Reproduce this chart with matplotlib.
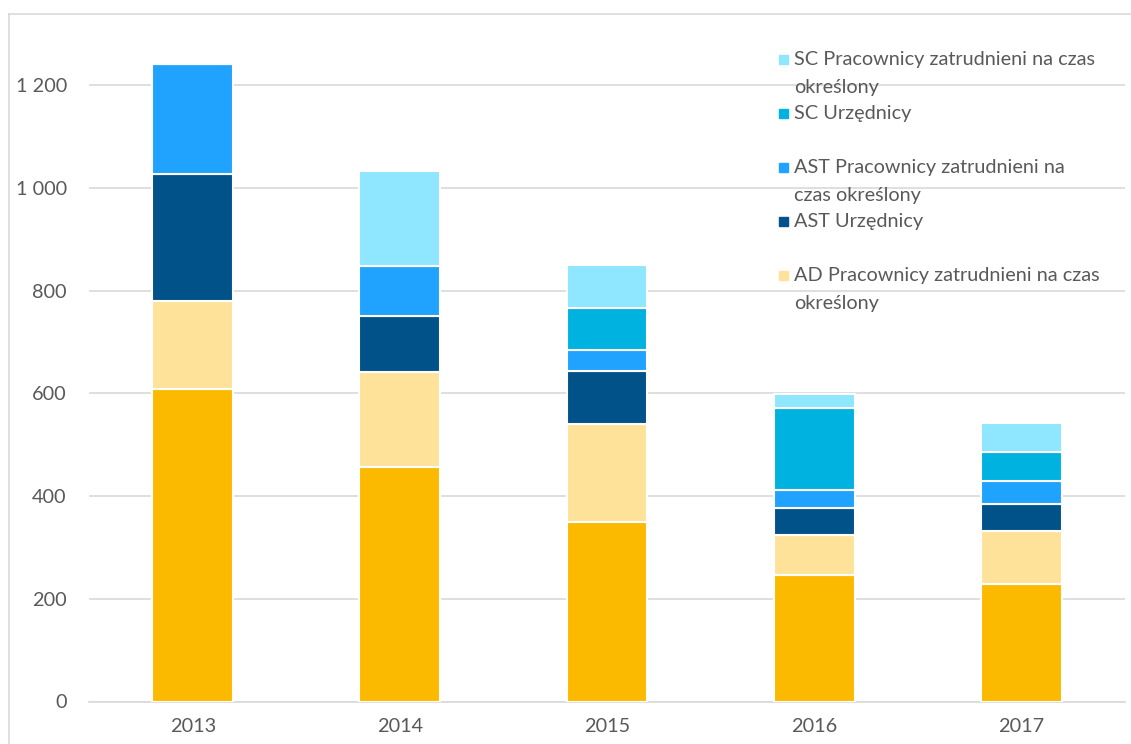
import matplotlib
matplotlib.use("Agg")
import matplotlib.pyplot as plt
from matplotlib.patches import Rectangle
from matplotlib.lines import Line2D

plt.rcParams['font.family'] = ['Lato', 'DejaVu Sans']

years = ["2013", "2014", "2015", "2016", "2017"]

# staff counts per category, bottom of the stack first
ad_urz = [608, 456, 350, 246, 228]
ad_prac = [172, 185, 190, 79, 105]
ast_urz = [247, 109, 103, 51, 52]
ast_prac = [214, 99, 42, 36, 44]
sc_urz = [0, 0, 81, 160, 56]
sc_prac = [0, 185, 84, 27, 57]

series = [
    ("AD Urzędnicy", ad_urz, "#FBB900"),
    ("AD Pracownicy zatrudnieni na czas\nokreślony", ad_prac, "#FFE29A"),
    ("AST Urzędnicy", ast_urz, "#02528A"),
    ("AST Pracownicy zatrudnieni na\nczas określony", ast_prac, "#20A3FF"),
    ("SC Urzędnicy", sc_urz, "#00B2E0"),
    ("SC Pracownicy zatrudnieni na czas\nokreślony", sc_prac, "#8EE6FF"),
]

W, H = 1131, 744
fig = plt.figure(figsize=(W / 100, H / 100), dpi=100)
ax = fig.add_axes([89 / W, 42.5 / H, 1036 / W, (701.5 - 34) / H])

grey = "#595959"
fs = 14.3
bottom = [0] * len(years)
for name, vals, col in series:
    ax.bar(range(len(years)), vals, 0.39, bottom=bottom, color=col,
           edgecolor="white", linewidth=1.5, zorder=3)
    bottom = [b + v for b, v in zip(bottom, vals)]

ax.set_xlim(-0.5, 4.5)
ax.set_ylim(0, 1300)
ax.set_yticks(range(0, 1201, 200))
ax.set_yticklabels([f"{v:,}".replace(",", " ") for v in range(0, 1201, 200)])
ax.set_xticks(range(len(years)))
ax.set_xticklabels(years)
ax.tick_params(axis="both", length=0, labelsize=fs, colors=grey)
ax.tick_params(axis="y", pad=16)
ax.tick_params(axis="x", pad=12)
ax.grid(axis="y", color="#D9D9D9", linewidth=1.2, zorder=0)
for s in ["top", "right", "left"]:
    ax.spines[s].set_visible(False)
ax.spines["bottom"].set_color("#D9D9D9")
ax.spines["bottom"].set_linewidth(1.2)

# legend drawn by hand, two text lines per slot
def px(x, y):
    return x / W, 1 - y / H

slot_y = [60, 114, 168, 222, 276]
for (name, vals, col), y in zip(series[::-1], slot_y):
    x0, y0 = px(779, y + 4)
    fig.add_artist(Rectangle((x0, y0), 9 / W, 9 / H, color=col,
                             transform=fig.transFigure))
    tx, ty = px(794, y - 9)
    fig.text(tx, ty, name, color=grey, fontsize=fs, va="top", ha="left",
             linespacing=1.75)

# chart frame
fig.add_artist(Line2D([9 / W, 1.0], [1 - 13.5 / H] * 2, color="#D9D9D9",
                      lw=1.2, transform=fig.transFigure))
fig.add_artist(Line2D([9 / W] * 2, [0, 1 - 13.5 / H], color="#D9D9D9",
                      lw=1.2, transform=fig.transFigure))

fig.savefig("out.png", dpi=100)
